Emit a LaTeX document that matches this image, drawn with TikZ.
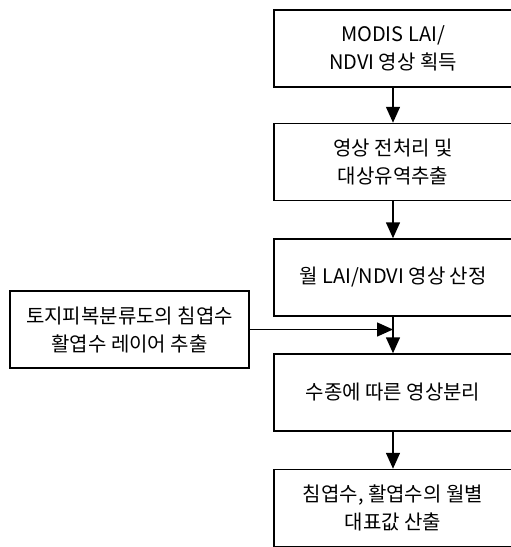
\documentclass[tikz,border=0pt]{standalone}
\usepackage{fontspec}
\setmainfont{Noto Sans CJK KR}
\usetikzlibrary{arrows.meta}
\begin{document}
\begin{tikzpicture}[x=1pt,y=1pt]
	\tikzstyle{fleche}=[-{Triangle[length=16pt,width=14pt]},line width=1.5pt]
	\tikzset{etape/.style={draw,rectangle,line width=1.5pt,minimum width=238pt,minimum height=77pt,inner sep=0pt,align=center,font=\fontsize{20}{28}\selectfont}}
	\useasboundingbox (0,0) rectangle (511,-547);
	\node[etape] (e1) at (393,-48.5) {MODIS LAI/\\NDVI 영상 획득};
	\node[etape] (e2) at (393,-162) {영상 전처리 및\\대상유역추출};
	\node[etape] (e3) at (393,-277.5) {월 LAI/NDVI 영상 산정};
	\node[etape] (e4) at (393,-392.5) {수종에 따른 영상분리};
	\node[etape] (e5) at (393,-508) {침엽수, 활엽수의 월별\\대표값 산출};
	\node[etape,minimum width=239pt] (couche) at (129.5,-329.5) {토지피복분류도의 침엽수\\활엽수 레이어 추출};
	\coordinate (jonction) at (393,-329.5);
	\draw[fleche] (e1) -- (e2);
	\draw[fleche] (e2) -- (e3);
	\draw[fleche] (e3) -- (e4);
	\draw[fleche] (e4) -- (e5);
	\draw[fleche] (couche) -- (jonction);
\end{tikzpicture}
\end{document}
